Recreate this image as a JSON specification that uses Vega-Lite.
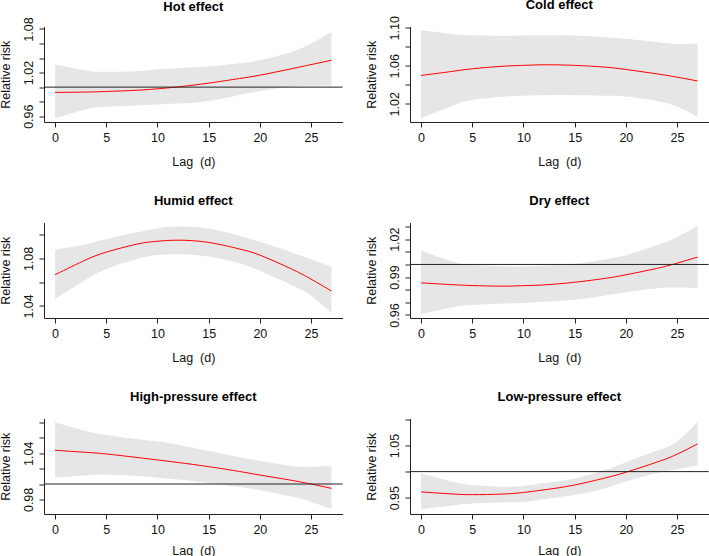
{
  "$schema": "https://vega.github.io/schema/vega-lite/v6.json",
  "autosize": {"type": "pad"},
  "padding": {"left": -2, "top": -1.5, "right": 0, "bottom": 0},
  "config": {
    "view": {"stroke": null},
    "font": "Liberation Sans",
    "axis": {
      "grid": false,
      "domainColor": "#222222",
      "tickColor": "#222222",
      "domainWidth": 1,
      "tickWidth": 1,
      "tickSize": 5,
      "labelColor": "#111111",
      "titleColor": "#111111",
      "labelFont": "Liberation Sans",
      "titleFont": "Liberation Sans",
      "labelFontSize": 12.5,
      "titleFontSize": 12.5,
      "titleFontWeight": "normal",
      "labelFlush": false,
      "labelOverlap": false,
      "labelSeparation": -1000
    },
    "axisX": {"labelBaseline": "middle", "labelPadding": 10.3, "titleBaseline": "middle", "titleY": 39.5},
    "axisY": {"labelAngle": -90, "labelAlign": "center", "labelBaseline": "middle", "labelPadding": 11, "titleAngle": -90, "titleBaseline": "middle", "titleAlign": "center", "titleX": -39},
    "title": {"font": "Liberation Sans", "fontSize": 13, "fontWeight": "bold", "color": "#000000", "anchor": "middle", "frame": "group", "baseline": "alphabetic", "offset": 14.7}
  },
  "datasets": {
    "d": [
      {"p": "Hot", "lag": 0, "fit": 0.9927, "lo": 0.957, "hi": 1.031},
      {"p": "Hot", "lag": 3, "fit": 0.9932, "lo": 0.9695, "hi": 1.023},
      {"p": "Hot", "lag": 5, "fit": 0.994, "lo": 0.973, "hi": 1.021},
      {"p": "Hot", "lag": 8, "fit": 0.9957, "lo": 0.9748, "hi": 1.022},
      {"p": "Hot", "lag": 10, "fit": 0.9977, "lo": 0.976, "hi": 1.0245},
      {"p": "Hot", "lag": 12, "fit": 1.0003, "lo": 0.9775, "hi": 1.026},
      {"p": "Hot", "lag": 15, "fit": 1.0055, "lo": 0.981, "hi": 1.0286},
      {"p": "Hot", "lag": 18, "fit": 1.0118, "lo": 0.989, "hi": 1.033},
      {"p": "Hot", "lag": 20, "fit": 1.0164, "lo": 0.9945, "hi": 1.037},
      {"p": "Hot", "lag": 23, "fit": 1.025, "lo": 1.0005, "hi": 1.048},
      {"p": "Hot", "lag": 25, "fit": 1.031, "lo": 1.0018, "hi": 1.06},
      {"p": "Hot", "lag": 27, "fit": 1.037, "lo": 1.0025, "hi": 1.076},
      {"p": "Cold", "lag": 0, "fit": 1.0498, "lo": 1.0047, "hi": 1.0974},
      {"p": "Cold", "lag": 3, "fit": 1.054, "lo": 1.0177, "hi": 1.0935},
      {"p": "Cold", "lag": 5, "fit": 1.0568, "lo": 1.024, "hi": 1.092},
      {"p": "Cold", "lag": 8, "fit": 1.0595, "lo": 1.0275, "hi": 1.0915},
      {"p": "Cold", "lag": 10, "fit": 1.0604, "lo": 1.0285, "hi": 1.0918},
      {"p": "Cold", "lag": 12, "fit": 1.061, "lo": 1.029, "hi": 1.092},
      {"p": "Cold", "lag": 15, "fit": 1.0604, "lo": 1.029, "hi": 1.0917},
      {"p": "Cold", "lag": 18, "fit": 1.0585, "lo": 1.0285, "hi": 1.09},
      {"p": "Cold", "lag": 20, "fit": 1.0561, "lo": 1.0276, "hi": 1.0885},
      {"p": "Cold", "lag": 23, "fit": 1.0515, "lo": 1.023, "hi": 1.085},
      {"p": "Cold", "lag": 25, "fit": 1.048, "lo": 1.017, "hi": 1.083},
      {"p": "Cold", "lag": 27, "fit": 1.044, "lo": 1.0064, "hi": 1.0835},
      {"p": "Humid", "lag": 0, "fit": 1.0663, "lo": 1.0458, "hi": 1.0873},
      {"p": "Humid", "lag": 3, "fit": 1.0788, "lo": 1.062, "hi": 1.092},
      {"p": "Humid", "lag": 5, "fit": 1.0853, "lo": 1.071, "hi": 1.0963},
      {"p": "Humid", "lag": 8, "fit": 1.0921, "lo": 1.0795, "hi": 1.102},
      {"p": "Humid", "lag": 10, "fit": 1.0945, "lo": 1.0828, "hi": 1.1055},
      {"p": "Humid", "lag": 12, "fit": 1.0954, "lo": 1.0836, "hi": 1.1069},
      {"p": "Humid", "lag": 15, "fit": 1.0935, "lo": 1.0817, "hi": 1.1052},
      {"p": "Humid", "lag": 18, "fit": 1.088, "lo": 1.076, "hi": 1.099},
      {"p": "Humid", "lag": 20, "fit": 1.0828, "lo": 1.0696, "hi": 1.094},
      {"p": "Humid", "lag": 23, "fit": 1.0715, "lo": 1.058, "hi": 1.0855},
      {"p": "Humid", "lag": 25, "fit": 1.0626, "lo": 1.0486, "hi": 1.0794},
      {"p": "Humid", "lag": 27, "fit": 1.0525, "lo": 1.034, "hi": 1.073},
      {"p": "Dry", "lag": 0, "fit": 0.9854, "lo": 0.9607, "hi": 1.0111},
      {"p": "Dry", "lag": 3, "fit": 0.984, "lo": 0.966, "hi": 1.0024},
      {"p": "Dry", "lag": 5, "fit": 0.9833, "lo": 0.9679, "hi": 0.9997},
      {"p": "Dry", "lag": 8, "fit": 0.9828, "lo": 0.969, "hi": 0.9985},
      {"p": "Dry", "lag": 10, "fit": 0.9832, "lo": 0.9695, "hi": 0.9984},
      {"p": "Dry", "lag": 12, "fit": 0.9838, "lo": 0.9705, "hi": 0.999},
      {"p": "Dry", "lag": 15, "fit": 0.9859, "lo": 0.9721, "hi": 1.0005},
      {"p": "Dry", "lag": 18, "fit": 0.989, "lo": 0.9755, "hi": 1.004},
      {"p": "Dry", "lag": 20, "fit": 0.9918, "lo": 0.978, "hi": 1.0072},
      {"p": "Dry", "lag": 23, "fit": 0.9968, "lo": 0.9812, "hi": 1.0151},
      {"p": "Dry", "lag": 25, "fit": 1.001, "lo": 0.9817, "hi": 1.0218},
      {"p": "Dry", "lag": 27, "fit": 1.0058, "lo": 0.9812, "hi": 1.0305},
      {"p": "High", "lag": 0, "fit": 1.0439, "lo": 1.0083, "hi": 1.0804},
      {"p": "High", "lag": 3, "fit": 1.0412, "lo": 1.011, "hi": 1.069},
      {"p": "High", "lag": 5, "fit": 1.0391, "lo": 1.0122, "hi": 1.0639},
      {"p": "High", "lag": 8, "fit": 1.0345, "lo": 1.0105, "hi": 1.0585},
      {"p": "High", "lag": 10, "fit": 1.0313, "lo": 1.0083, "hi": 1.0552},
      {"p": "High", "lag": 12, "fit": 1.028, "lo": 1.006, "hi": 1.051},
      {"p": "High", "lag": 15, "fit": 1.0226, "lo": 1.0013, "hi": 1.043},
      {"p": "High", "lag": 18, "fit": 1.0163, "lo": 0.996, "hi": 1.035},
      {"p": "High", "lag": 20, "fit": 1.0117, "lo": 0.992, "hi": 1.03},
      {"p": "High", "lag": 23, "fit": 1.005, "lo": 0.984, "hi": 1.0239},
      {"p": "High", "lag": 25, "fit": 1.0, "lo": 0.977, "hi": 1.0226},
      {"p": "High", "lag": 27, "fit": 0.9943, "lo": 0.9674, "hi": 1.023},
      {"p": "Low", "lag": 0, "fit": 0.961, "lo": 0.9276, "hi": 0.9968},
      {"p": "Low", "lag": 3, "fit": 0.9572, "lo": 0.935, "hi": 0.981},
      {"p": "Low", "lag": 5, "fit": 0.9558, "lo": 0.939, "hi": 0.9744},
      {"p": "Low", "lag": 8, "fit": 0.957, "lo": 0.941, "hi": 0.971},
      {"p": "Low", "lag": 10, "fit": 0.96, "lo": 0.9423, "hi": 0.9724},
      {"p": "Low", "lag": 12, "fit": 0.965, "lo": 0.947, "hi": 0.978},
      {"p": "Low", "lag": 15, "fit": 0.9744, "lo": 0.955, "hi": 0.987},
      {"p": "Low", "lag": 18, "fit": 0.988, "lo": 0.968, "hi": 1.003},
      {"p": "Low", "lag": 20, "fit": 0.9987, "lo": 0.981, "hi": 1.018},
      {"p": "Low", "lag": 23, "fit": 1.018, "lo": 0.9968, "hi": 1.04},
      {"p": "Low", "lag": 25, "fit": 1.0333, "lo": 1.0045, "hi": 1.058},
      {"p": "Low", "lag": 27, "fit": 1.0532, "lo": 1.0115, "hi": 1.095}
    ]
  },
  "columns": 2,
  "spacing": {"row": 100, "column": 67},
  "bounds": "flush",
  "concat": [
    {
      "title": {"text": "Hot effect", "offset": 3.1},
      "width": 298.6, "height": 95.5,
      "layer": [
        {"data": {"name": "d"}, "transform": [{"filter": "datum.p === 'Hot'"}],
         "mark": {"type": "area", "color": "#e6e6e6", "interpolate": "natural"},
         "encoding": {
           "x": {"field": "lag", "type": "quantitative", "scale": {"domain": [-1.08, 28.08], "nice": false, "zero": false}, "axis": {"values": [0, 5, 10, 15, 20, 25], "labelOverlap": false, "title": "Lag \u00a0(d)"}},
           "y": {"field": "lo", "type": "quantitative", "scale": {"domain": [0.952, 1.0834], "nice": false, "zero": false}, "axis": {"values": [0.96, 0.98, 1.0, 1.02, 1.04, 1.06, 1.08], "labelOverlap": false, "labelExpr": "indexof(['0.96','1.02','1.08'], format(datum.value, '.2f')) >= 0 ? format(datum.value, '.2f') : ''", "title": "Relative risk"}},
           "y2": {"field": "hi"}
         }},
        {"data": {"name": "d"}, "transform": [{"filter": "datum.p === 'Hot'"}],
         "mark": {"type": "line", "color": "#ff0000", "strokeWidth": 1, "interpolate": "natural"},
         "encoding": {
           "x": {"field": "lag", "type": "quantitative", "axis": {"values": [0, 5, 10, 15, 20, 25], "labelOverlap": false, "title": "Lag \u00a0(d)"}},
           "y": {"field": "fit", "type": "quantitative", "axis": {"values": [0.96, 0.98, 1.0, 1.02, 1.04, 1.06, 1.08], "labelOverlap": false, "labelExpr": "indexof(['0.96','1.02','1.08'], format(datum.value, '.2f')) >= 0 ? format(datum.value, '.2f') : ''", "title": "Relative risk"}}
         }},
        {"data": {"values": [{"ref": 1}]},
         "mark": {"type": "rule", "color": "#222222", "strokeWidth": 1},
         "encoding": {"y": {"field": "ref", "type": "quantitative", "axis": {"values": [0.96, 0.98, 1.0, 1.02, 1.04, 1.06, 1.08], "labelOverlap": false, "labelExpr": "indexof(['0.96','1.02','1.08'], format(datum.value, '.2f')) >= 0 ? format(datum.value, '.2f') : ''", "title": "Relative risk"}}}}
      ]
    },
    {
      "title": {"text": "Cold effect", "offset": 3.1},
      "width": 298.6, "height": 95.5,
      "layer": [
        {"data": {"name": "d"}, "transform": [{"filter": "datum.p === 'Cold'"}],
         "mark": {"type": "area", "color": "#e6e6e6", "interpolate": "natural"},
         "encoding": {
           "x": {"field": "lag", "type": "quantitative", "scale": {"domain": [-1.08, 28.08], "nice": false, "zero": false}, "axis": {"values": [0, 5, 10, 15, 20, 25], "labelOverlap": false, "title": "Lag \u00a0(d)"}},
           "y": {"field": "lo", "type": "quantitative", "scale": {"domain": [1.0008, 1.1013], "nice": false, "zero": false}, "axis": {"values": [1.02, 1.04, 1.06, 1.08, 1.1], "labelOverlap": false, "labelExpr": "indexof(['1.02','1.06','1.10'], format(datum.value, '.2f')) >= 0 ? format(datum.value, '.2f') : ''", "title": "Relative risk"}},
           "y2": {"field": "hi"}
         }},
        {"data": {"name": "d"}, "transform": [{"filter": "datum.p === 'Cold'"}],
         "mark": {"type": "line", "color": "#ff0000", "strokeWidth": 1, "interpolate": "natural"},
         "encoding": {
           "x": {"field": "lag", "type": "quantitative", "axis": {"values": [0, 5, 10, 15, 20, 25], "labelOverlap": false, "title": "Lag \u00a0(d)"}},
           "y": {"field": "fit", "type": "quantitative", "axis": {"values": [1.02, 1.04, 1.06, 1.08, 1.1], "labelOverlap": false, "labelExpr": "indexof(['1.02','1.06','1.10'], format(datum.value, '.2f')) >= 0 ? format(datum.value, '.2f') : ''", "title": "Relative risk"}}
         }}
      ]
    },
    {
      "title": {"text": "Humid effect"},
      "width": 298.6, "height": 95.5,
      "layer": [
        {"data": {"name": "d"}, "transform": [{"filter": "datum.p === 'Humid'"}],
         "mark": {"type": "area", "color": "#e6e6e6", "interpolate": "natural"},
         "encoding": {
           "x": {"field": "lag", "type": "quantitative", "scale": {"domain": [-1.08, 28.08], "nice": false, "zero": false}, "axis": {"values": [0, 5, 10, 15, 20, 25], "labelOverlap": false, "title": "Lag \u00a0(d)"}},
           "y": {"field": "lo", "type": "quantitative", "scale": {"domain": [1.0298, 1.1103], "nice": false, "zero": false}, "axis": {"values": [1.04, 1.06, 1.08, 1.1], "labelOverlap": false, "labelExpr": "indexof(['1.04','1.08'], format(datum.value, '.2f')) >= 0 ? format(datum.value, '.2f') : ''", "title": "Relative risk"}},
           "y2": {"field": "hi"}
         }},
        {"data": {"name": "d"}, "transform": [{"filter": "datum.p === 'Humid'"}],
         "mark": {"type": "line", "color": "#ff0000", "strokeWidth": 1, "interpolate": "natural"},
         "encoding": {
           "x": {"field": "lag", "type": "quantitative", "axis": {"values": [0, 5, 10, 15, 20, 25], "labelOverlap": false, "title": "Lag \u00a0(d)"}},
           "y": {"field": "fit", "type": "quantitative", "axis": {"values": [1.04, 1.06, 1.08, 1.1], "labelOverlap": false, "labelExpr": "indexof(['1.04','1.08'], format(datum.value, '.2f')) >= 0 ? format(datum.value, '.2f') : ''", "title": "Relative risk"}}
         }}
      ]
    },
    {
      "title": {"text": "Dry effect"},
      "width": 298.6, "height": 95.5,
      "layer": [
        {"data": {"name": "d"}, "transform": [{"filter": "datum.p === 'Dry'"}],
         "mark": {"type": "area", "color": "#e6e6e6", "interpolate": "natural"},
         "encoding": {
           "x": {"field": "lag", "type": "quantitative", "scale": {"domain": [-1.08, 28.08], "nice": false, "zero": false}, "axis": {"values": [0, 5, 10, 15, 20, 25], "labelOverlap": false, "title": "Lag \u00a0(d)"}},
           "y": {"field": "lo", "type": "quantitative", "scale": {"domain": [0.9576, 1.0332], "nice": false, "zero": false}, "axis": {"values": [0.96, 0.97, 0.98, 0.99, 1.0, 1.01, 1.02, 1.03], "labelOverlap": false, "labelExpr": "indexof(['0.96','0.99','1.02'], format(datum.value, '.2f')) >= 0 ? format(datum.value, '.2f') : ''", "title": "Relative risk"}},
           "y2": {"field": "hi"}
         }},
        {"data": {"name": "d"}, "transform": [{"filter": "datum.p === 'Dry'"}],
         "mark": {"type": "line", "color": "#ff0000", "strokeWidth": 1, "interpolate": "natural"},
         "encoding": {
           "x": {"field": "lag", "type": "quantitative", "axis": {"values": [0, 5, 10, 15, 20, 25], "labelOverlap": false, "title": "Lag \u00a0(d)"}},
           "y": {"field": "fit", "type": "quantitative", "axis": {"values": [0.96, 0.97, 0.98, 0.99, 1.0, 1.01, 1.02, 1.03], "labelOverlap": false, "labelExpr": "indexof(['0.96','0.99','1.02'], format(datum.value, '.2f')) >= 0 ? format(datum.value, '.2f') : ''", "title": "Relative risk"}}
         }},
        {"data": {"values": [{"ref": 1}]},
         "mark": {"type": "rule", "color": "#222222", "strokeWidth": 1},
         "encoding": {"y": {"field": "ref", "type": "quantitative", "axis": {"values": [0.96, 0.97, 0.98, 0.99, 1.0, 1.01, 1.02, 1.03], "labelOverlap": false, "labelExpr": "indexof(['0.96','0.99','1.02'], format(datum.value, '.2f')) >= 0 ? format(datum.value, '.2f') : ''", "title": "Relative risk"}}}}
      ]
    },
    {
      "title": {"text": "High-pressure effect"},
      "width": 298.6, "height": 95.5,
      "layer": [
        {"data": {"name": "d"}, "transform": [{"filter": "datum.p === 'High'"}],
         "mark": {"type": "area", "color": "#e6e6e6", "interpolate": "natural"},
         "encoding": {
           "x": {"field": "lag", "type": "quantitative", "scale": {"domain": [-1.08, 28.08], "nice": false, "zero": false}, "axis": {"values": [0, 5, 10, 15, 20, 25], "labelOverlap": false, "titleY": 36.5, "title": "Lag \u00a0(d)"}},
           "y": {"field": "lo", "type": "quantitative", "scale": {"domain": [0.961, 1.0852], "nice": false, "zero": false}, "axis": {"values": [0.98, 1.0, 1.02, 1.04, 1.06, 1.08], "labelOverlap": false, "labelExpr": "indexof(['0.98','1.04'], format(datum.value, '.2f')) >= 0 ? format(datum.value, '.2f') : ''", "title": "Relative risk"}},
           "y2": {"field": "hi"}
         }},
        {"data": {"name": "d"}, "transform": [{"filter": "datum.p === 'High'"}],
         "mark": {"type": "line", "color": "#ff0000", "strokeWidth": 1, "interpolate": "natural"},
         "encoding": {
           "x": {"field": "lag", "type": "quantitative", "axis": {"values": [0, 5, 10, 15, 20, 25], "labelOverlap": false, "titleY": 36.5, "title": "Lag \u00a0(d)"}},
           "y": {"field": "fit", "type": "quantitative", "axis": {"values": [0.98, 1.0, 1.02, 1.04, 1.06, 1.08], "labelOverlap": false, "labelExpr": "indexof(['0.98','1.04'], format(datum.value, '.2f')) >= 0 ? format(datum.value, '.2f') : ''", "title": "Relative risk"}}
         }},
        {"data": {"values": [{"ref": 1}]},
         "mark": {"type": "rule", "color": "#222222", "strokeWidth": 1},
         "encoding": {"y": {"field": "ref", "type": "quantitative", "axis": {"values": [0.98, 1.0, 1.02, 1.04, 1.06, 1.08], "labelOverlap": false, "labelExpr": "indexof(['0.98','1.04'], format(datum.value, '.2f')) >= 0 ? format(datum.value, '.2f') : ''", "title": "Relative risk"}}}}
      ]
    },
    {
      "title": {"text": "Low-pressure effect"},
      "width": 298.6, "height": 95.5,
      "layer": [
        {"data": {"name": "d"}, "transform": [{"filter": "datum.p === 'Low'"}],
         "mark": {"type": "area", "color": "#e6e6e6", "interpolate": "natural"},
         "encoding": {
           "x": {"field": "lag", "type": "quantitative", "scale": {"domain": [-1.08, 28.08], "nice": false, "zero": false}, "axis": {"values": [0, 5, 10, 15, 20, 25], "labelOverlap": false, "titleY": 36.5, "title": "Lag \u00a0(d)"}},
           "y": {"field": "lo", "type": "quantitative", "scale": {"domain": [0.9187, 1.1019], "nice": false, "zero": false}, "axis": {"values": [0.95, 1.0, 1.05, 1.1], "labelOverlap": false, "labelExpr": "indexof(['0.95','1.05'], format(datum.value, '.2f')) >= 0 ? format(datum.value, '.2f') : ''", "title": "Relative risk"}},
           "y2": {"field": "hi"}
         }},
        {"data": {"name": "d"}, "transform": [{"filter": "datum.p === 'Low'"}],
         "mark": {"type": "line", "color": "#ff0000", "strokeWidth": 1, "interpolate": "natural"},
         "encoding": {
           "x": {"field": "lag", "type": "quantitative", "axis": {"values": [0, 5, 10, 15, 20, 25], "labelOverlap": false, "titleY": 36.5, "title": "Lag \u00a0(d)"}},
           "y": {"field": "fit", "type": "quantitative", "axis": {"values": [0.95, 1.0, 1.05, 1.1], "labelOverlap": false, "labelExpr": "indexof(['0.95','1.05'], format(datum.value, '.2f')) >= 0 ? format(datum.value, '.2f') : ''", "title": "Relative risk"}}
         }},
        {"data": {"values": [{"ref": 1}]},
         "mark": {"type": "rule", "color": "#222222", "strokeWidth": 1},
         "encoding": {"y": {"field": "ref", "type": "quantitative", "axis": {"values": [0.95, 1.0, 1.05, 1.1], "labelOverlap": false, "labelExpr": "indexof(['0.95','1.05'], format(datum.value, '.2f')) >= 0 ? format(datum.value, '.2f') : ''", "title": "Relative risk"}}}}
      ]
    }
  ]
}
